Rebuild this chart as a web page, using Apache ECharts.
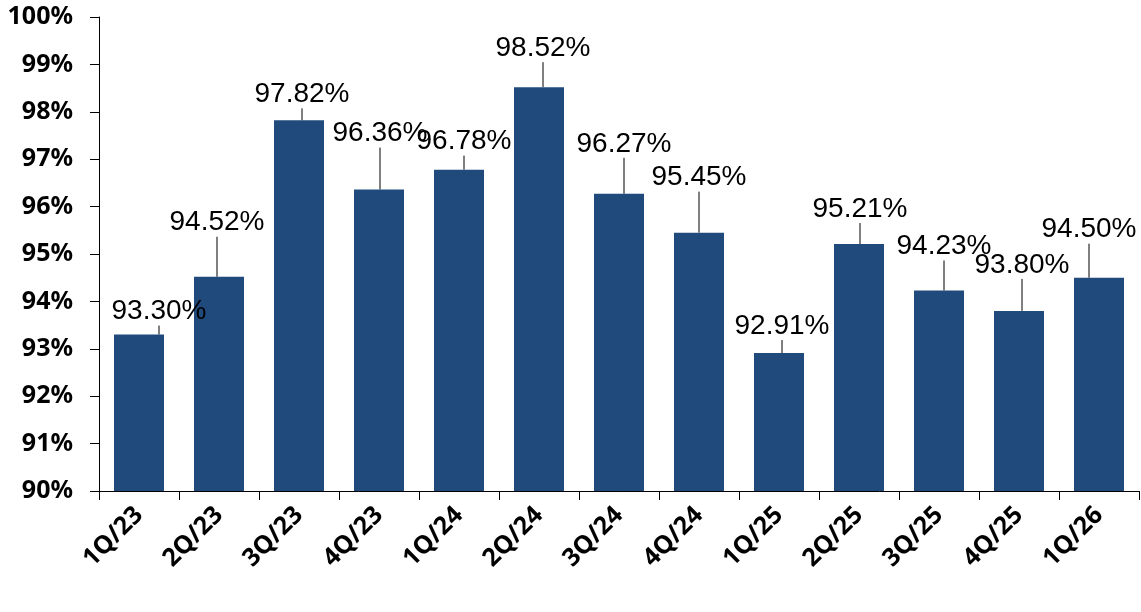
<!DOCTYPE html>
<html>
<head>
<meta charset="utf-8">
<script src="https://cdn.jsdelivr.net/npm/echarts@6/dist/echarts.min.js"></script>
<style>
  html, body { margin: 0; padding: 0; background: #fff; }
  #chart { width: 1141px; height: 612px; }
</style>
</head>
<body>
<div id="chart"></div>
<script>
// quarters and values
var quarters = ['1Q/23', '2Q/23', '3Q/23', '4Q/23', '1Q/24', '2Q/24', '3Q/24', '4Q/24', '1Q/25', '2Q/25', '3Q/25', '4Q/25', '1Q/26']
var rates = [93.30, 94.52, 97.82, 96.36, 96.78, 98.52, 96.27, 95.45, 92.91, 95.21, 94.23, 93.80, 94.50]
var yTicks = [90, 91, 92, 93, 94, 95, 96, 97, 98, 99, 100]

// label nudges (dx, dy) so the callouts sit like in the original
var labelShift = [
    [20, -4], [-2, -35], [3, -7], [1, -37], [5, -9], [4, -20], [5, -31],
    [0, -36], [3, -8], [1, -16], [5, -25], [3, -27], [-10, -29]
]

var myChart = echarts.init(document.getElementById('chart'))
var option = {
    animation: false,
    grid: { left: 99, right: 2, top: 17, bottom: 121 },
    xAxis: {
        type: 'category',
        data: quarters,
        axisLine: { lineStyle: { color: '#000', width: 1 } },
        axisTick: { show: true, length: 9, lineStyle: { color: '#000' } },
        axisLabel: {
            rotate: 45,
            margin: 20,
            color: '#000',
            fontFamily: 'Noto Sans',
            fontWeight: 'bold',
            fontSize: 25
        }
    },
    yAxis: {
        type: 'value',
        min: yTicks[0],
        max: yTicks[yTicks.length - 1],
        interval: 1,
        splitLine: { show: false },
        axisLine: { show: true, lineStyle: { color: '#000', width: 1 } },
        axisTick: { show: true, length: 9, lineStyle: { color: '#000' } },
        axisLabel: {
            margin: 26,
            color: '#000',
            fontFamily: 'Noto Sans',
            fontWeight: 'bold',
            fontSize: 25,
            formatter: function (v) { return v + '%' }
        }
    },
    series: [
        {
            type: 'bar',
            data: rates,
            barWidth: 50,
            itemStyle: { color: '#204A7C' },
            label: {
                show: true,
                position: 'top',
                distance: 5,
                color: '#000',
                fontFamily: 'Liberation Sans',
                fontSize: 28,
                formatter: function (p) { return p.value.toFixed(2) + '%' }
            },
            labelLine: {
                show: true,
                lineStyle: { color: '#000', width: 1, opacity: 1 }
            },
            labelLayout: function (params) {
                var s = labelShift[params.dataIndex]
                return { dx: s[0], dy: s[1] }
            }
        }
    ]
}
myChart.setOption(option)
</script>
</body>
</html>
